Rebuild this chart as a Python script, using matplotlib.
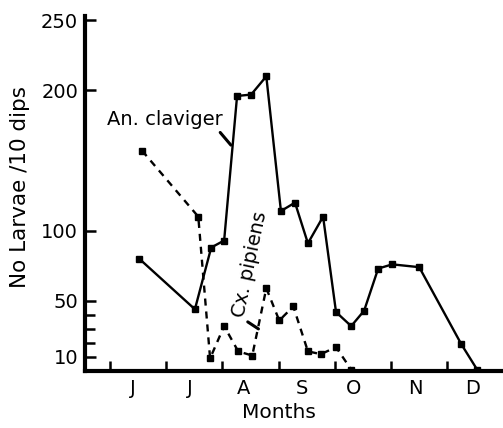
import matplotlib
matplotlib.use("Agg")
import matplotlib.pyplot as plt

# months counted from the start of June (0 = 1 June, 1 = 1 July ...)
month_names = ["J", "J", "A", "S", "O", "N", "D"]
month_starts = [0, 1, 2, 3, 4, 5, 6]
month_label_pos = [0.41, 1.42, 2.37, 3.41, 4.34, 5.44, 6.44]

claviger_x = [0.52, 1.51, 1.80, 2.03, 2.26, 2.51, 2.78, 3.04, 3.29, 3.52,
              3.79, 4.02, 4.29, 4.52, 4.77, 5.02, 5.50, 6.25, 6.53]
claviger_y = [80, 44, 88, 93, 196, 197, 210, 114, 120, 91,
              110, 42, 32, 43, 73, 76, 74, 19, 1]

pipiens_x = [0.57, 1.57, 1.78, 2.03, 2.28, 2.53, 2.78, 3.01, 3.26, 3.52,
             3.75, 4.02, 4.29]
pipiens_y = [157, 110, 9, 32, 14, 11, 59, 36, 46, 14, 12, 17, 1]

yticks = [10, 50, 100, 200, 250]
yminor = [20, 30, 40]

fig = plt.figure(figsize=(5.03, 4.28), dpi=100)
ax = fig.add_axes([85/503, 1-371/428, 1-85/503, (371-16)/428])

ax.plot(claviger_x, claviger_y, color="black", lw=1.7, marker="s", ms=5)
ax.plot(pipiens_x, pipiens_y, color="black", lw=1.7, ls=(0, (3, 2.5)),
        marker="s", ms=5)

ax.set_xlim(-0.445, 6.99)
ax.set_ylim(0, 253)

for s in ["top", "right"]:
    ax.spines[s].set_visible(False)
for s in ["left", "bottom"]:
    ax.spines[s].set_linewidth(3)

ax.set_yticks(yticks)
ax.set_yticklabels([str(v) for v in yticks], fontsize=14)
ax.set_yticks(yminor, minor=True)
ax.tick_params(axis="y", which="major", direction="in", length=8, width=1.8, pad=5)
ax.tick_params(axis="y", which="minor", direction="in", length=7, width=1.8)

ax.set_xticks(month_starts)
ax.set_xticklabels([""] * len(month_starts))
ax.set_xticks(month_label_pos, minor=True)
ax.set_xticklabels(month_names, minor=True, fontsize=14)
ax.tick_params(axis="x", which="major", direction="in", length=7, width=1.8)
ax.tick_params(axis="x", which="minor", length=0, pad=6)

# labels for the two species with short pointer lines
ax.text(0.98, 179, "An. claviger", fontsize=14, ha="center", va="center")
ax.annotate("", xy=(2.15, 161), xytext=(1.96, 170),
            arrowprops=dict(arrowstyle="-", color="black", lw=2.2,
                            shrinkA=0, shrinkB=0))
ax.text(2.48, 76, "Cx. pipiens", fontsize=14, ha="center", va="center",
        rotation=78)
ax.annotate("", xy=(2.64, 30), xytext=(2.45, 35),
            arrowprops=dict(arrowstyle="-", color="black", lw=2.2,
                            shrinkA=0, shrinkB=0))

fig.text(279/503, 1-412/428, "Months", fontsize=14.5, ha="center", va="center")
fig.text(20/503, 1-187/428, "No Larvae /10 dips", fontsize=15.5,
         ha="center", va="center", rotation=90)

fig.savefig("out.png", dpi=100)
